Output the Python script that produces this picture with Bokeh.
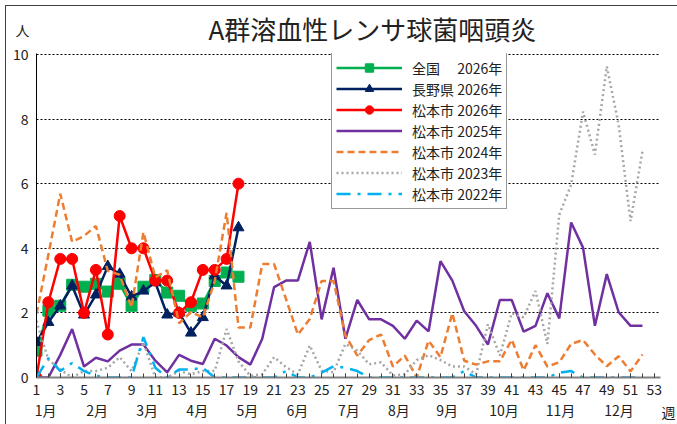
from bokeh.plotting import figure
from bokeh.models import (Range1d, FixedTicker, Legend, LegendItem, LinearAxis, Title,
                          InlineStyleSheet)
from bokeh.embed import file_html
from bokeh.resources import INLINE

FONT = "Noto Sans CJK JP"

# ---- data ----
weeks_2026 = list(range(1, 19))
weeks_full = list(range(1, 53))

zenkoku_2026 = [0.83, 2.07, 2.22, 2.87, 2.81, 2.90, 2.66, 2.90, 2.22, 2.81,
                3.02, 2.63, 2.53, 2.22, 2.29, 2.99, 3.25, 3.12]
nagano_2026 = [1.09, 1.71, 2.22, 2.84, 1.94, 2.56, 3.44, 3.20, 2.50, 2.68,
               2.94, 1.94, 2.00, 1.38, 1.86, 3.15, 2.84, 4.64]
matsumoto_2026 = [0.0, 2.33, 3.67, 3.67, 2.0, 3.33, 1.33, 5.0, 4.0, 4.0,
                  3.0, 3.0, 2.0, 2.33, 3.33, 3.33, 3.67, 6.0]
matsumoto_2025 = [0, 0, 0.7, 1.5, 0.34, 0.61, 0.5, 0.83, 1.02, 1.02,
                  0.52, 0.16, 0.7, 0.52, 0.42, 1.2, 0.99, 0.63, 0.4, 1.2,
                  2.8, 3.0, 3.0, 4.2, 1.8, 3.4, 1.2, 2.4, 1.8, 1.8,
                  1.6, 1.2, 1.76, 1.43, 3.6, 3.0, 2.05, 1.6, 1.02, 2.4,
                  2.4, 1.42, 1.6, 2.61, 1.83, 4.8, 4.02, 1.6, 3.2, 2.02,
                  1.6, 1.6]
matsumoto_2024 = [1.97, 3.8, 5.69, 4.2, 4.38, 4.69, 3.3, 3.18, 2.17, 4.5,
                  3.1, 3.32, 1.68, 2.02, 1.86, 2.99, 5.1, 1.55, 1.55, 3.51,
                  3.51, 2.43, 1.33, 1.81, 2.99, 2.99, 1.3, 0.68, 1.16, 1.33,
                  0.34, 0.68, 0.0, 1.14, 0.63, 1.99, 0.52, 0.4, 0.5, 0.5,
                  1.17, 0.22, 1.0, 0.34, 0.47, 1.04, 1.16, 0.71, 0.35, 0.66,
                  0.19, 0.71]
matsumoto_2023 = [1.75, 0.55, 0.25, 0.0, 0.2, 0.2, 0.3, 0.63, 0.2, 1.09,
                  0.0, 0.0, 0.2, 0.1, 0.2, 0.2, 1.5, 0.5, 0.05, 0.1,
                  0.63, 0.32, 0.1, 0.99, 0.21, 0.16, 1.04, 0.83, 0.41, 0.47,
                  0.06, 0.1, 0.54, 0.69, 0.54, 0.34, 0.34, 0.1, 1.65, 0.68,
                  1.99, 1.86, 2.68, 1.04, 5.04, 5.97, 8.23, 6.9, 9.63, 7.82,
                  4.84, 7.0]
matsumoto_2022 = [0.0, 0.6, 0.2, 0.45, 0.2, 0.05, 0.0, 0.0, 0.0, 1.25,
                  0.3, 0.0, 0.25, 0.25, 0.3, 0.0, 0.0, 0.0, 0.0, 0.0,
                  0.0, 0.2, 0.0, 0.0, 0.15, 0.35, 0.3, 0.2, 0.0, 0.0,
                  0.0, 0.0, 0.0, 0.0, 0.0, 0.0, 0.2, 0.0, 0.0, 0.0,
                  0.0, 0.0, 0.0, 0.0, 0.15, 0.2, 0.0, 0.0, 0.0, 0.0,
                  0.0, 0.0]

series_names = ["全国", "長野県", "松本市", "松本市", "松本市", "松本市", "松本市"]
series_years = ["2026年", "2026年", "2026年", "2025年", "2024年", "2023年", "2022年"]

x_ticks = list(range(1, 54, 2))
y_ticks = [0, 2, 4, 6, 8, 10]
month_labels = ["1月", "2月", "3月", "4月", "5月", "6月", "7月", "8月", "9月",
                "10月", "11月", "12月"]
month_pos = [1.76, 6.11, 10.32, 14.53, 18.74, 22.95, 27.29, 31.5, 35.57,
             40.34, 45.11, 50.02]
title_text = "A群溶血性レンサ球菌咽頭炎"
unit_text = "人"
week_text = "週"

# ---- figure ----
p = figure(width=677, height=424, x_range=Range1d(1, 53.52), y_range=Range1d(0, 10.03),
           output_backend="svg", toolbar_location=None,
           min_border_left=36, min_border_right=17, min_border_top=53,
           min_border_bottom=47)
p.outline_line_color = None
p.background_fill_color = "white"

# thin frame lines (left and top) around the chart, drawn as an overlay
p.stylesheets = [InlineStyleSheet(css="""
:host::after {
  content: "";
  position: absolute;
  left: 5px; top: 5px; right: 0px; bottom: 0px;
  box-sizing: border-box;
  border-left: 1px solid #404040;
  border-top: 1px solid #404040;
  pointer-events: none;
  z-index: 1000;
}
""")]

# main title
p.title.text = title_text
p.title.align = "left"
p.title.offset = 172
p.title.standoff = 14
p.title.text_font = FONT
p.title.text_font_size = "26px"
p.title.text_font_style = "normal"
p.title.text_color = "#222222"

# unit mark, pulled up into the title row
unit_title = Title(text=unit_text, align="left", offset=-21, standoff=-68,
                   vertical_align="top", text_font=FONT, text_font_size="14px",
                   text_font_style="normal", text_color="#222222")
p.add_layout(unit_title, "above")

xa = p.xaxis[0]
xa.ticker = FixedTicker(ticks=x_ticks, minor_ticks=weeks_full + [53])
xa.major_tick_in = 4
xa.major_tick_out = 0
xa.minor_tick_in = 4
xa.minor_tick_out = 0
xa.axis_line_color = "#7f7f7f"
xa.axis_line_width = 2
xa.major_tick_line_color = "#404040"
xa.minor_tick_line_color = "#404040"
xa.major_label_standoff = 6
xa.major_label_text_font = FONT
xa.major_label_text_font_size = "14px"
xa.major_label_text_color = "#222222"

# month labels as a second axis below
ma = LinearAxis(ticker=FixedTicker(ticks=month_pos, minor_ticks=[]),
                major_label_overrides={pos: m for pos, m in zip(month_pos, month_labels)})
ma.axis_line_color = None
ma.major_tick_line_color = None
ma.minor_tick_line_color = None
ma.major_tick_in = 0
ma.major_tick_out = 0
ma.major_label_standoff = 2
ma.major_label_text_font = FONT
ma.major_label_text_font_size = "14px"
ma.major_label_text_color = "#222222"
p.add_layout(ma, "below")

# week mark, pulled up into the month row
week_title = Title(text=week_text, align="right", offset=-15, standoff=-42,
                   vertical_align="top", text_font=FONT, text_font_size="14px",
                   text_font_style="normal", text_color="#222222")
p.add_layout(week_title, "below")

ya = p.yaxis[0]
ya.ticker = FixedTicker(ticks=y_ticks)
ya.major_tick_in = 0
ya.major_tick_out = 0
ya.minor_tick_line_color = None
ya.axis_line_color = "black"
ya.major_label_standoff = 8
ya.major_label_text_font = FONT
ya.major_label_text_font_size = "14px"
ya.major_label_text_color = "#222222"

p.xgrid.visible = False
p.ygrid.grid_line_color = "black"
p.ygrid.grid_line_dash = "2 2"
p.ygrid.grid_line_width = 1

# ---- series ----
r_g_l = p.line(weeks_2026, zenkoku_2026, line_color="#00B050", line_width=2.5)
r_g_m = p.scatter(weeks_2026, zenkoku_2026, marker="square", size=11,
                  fill_color="#00B050", line_color="#00B050")
r_n_l = p.line(weeks_2026, nagano_2026, line_color="#002060", line_width=2.5)
r_n_m = p.scatter(weeks_2026, nagano_2026, marker="triangle", size=11,
                  fill_color="#002060", line_color="#002060")
r_r_l = p.line(weeks_2026, matsumoto_2026, line_color="#FF0000", line_width=2.5)
r_r_m = p.scatter(weeks_2026, matsumoto_2026, marker="circle", size=11,
                  fill_color="#FF0000", line_color="#FF0000")
r_25 = p.line(weeks_full, matsumoto_2025, line_color="#7030A0", line_width=2.5)
r_24 = p.line(weeks_full, matsumoto_2024, line_color="#ED7D31", line_width=2.5,
              line_dash="7 4")
r_23 = p.line(weeks_full, matsumoto_2023, line_color="#A6A6A6", line_width=2.5,
              line_dash="2 3")
r_22 = p.line(weeks_full, matsumoto_2022, line_color="#00B0F0", line_width=2.5,
              line_dash="14 7 3 7")

renderer_groups = [[r_g_l, r_g_m], [r_n_l, r_n_m], [r_r_l, r_r_m], [r_25], [r_24],
                   [r_23], [r_22]]
items = []
for name, year, rs in zip(series_names, series_years, renderer_groups):
    label = name.ljust(3, "\u3000") + " " + year
    items.append(LegendItem(label=label, renderers=rs))

legend = Legend(items=items, location=(295, 168), margin=0, padding=4,
                spacing=0, glyph_width=66, glyph_height=21, label_height=21,
                label_standoff=10, label_text_font=FONT,
                label_text_font_size="14px", label_text_color="#222222",
                border_line_color="#333333", border_line_width=1,
                background_fill_color="white", background_fill_alpha=1)
p.add_layout(legend, "center")

open("out.html", "w").write(file_html(p, INLINE))
